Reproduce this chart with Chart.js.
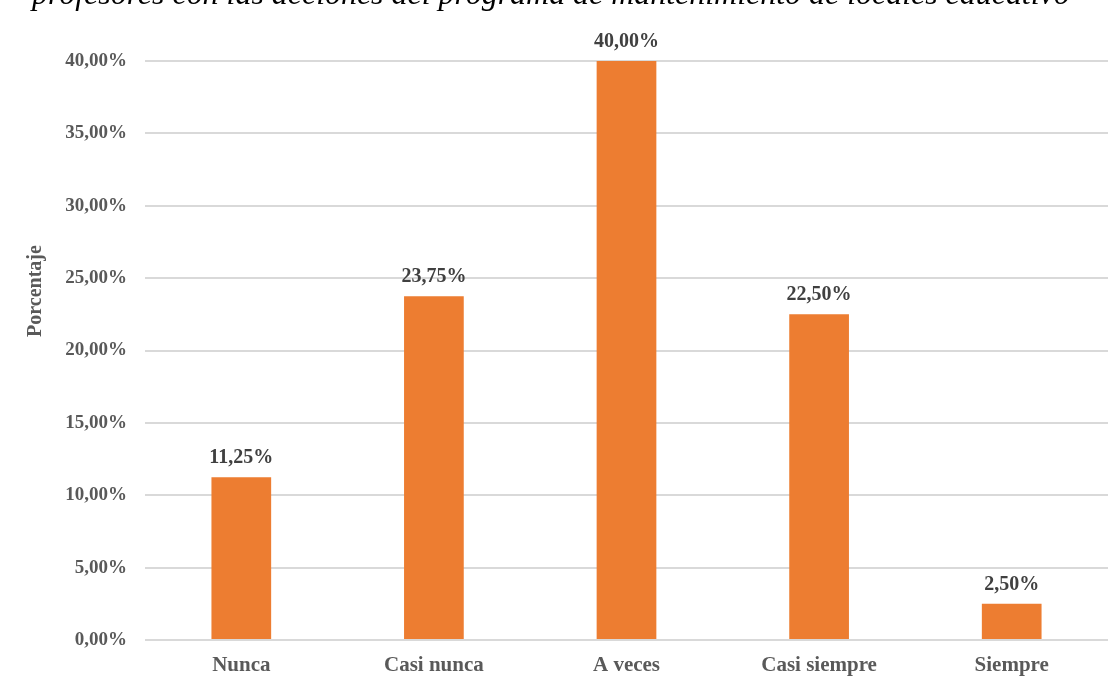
<!DOCTYPE html>
<html>
<head>
<meta charset="utf-8">
<title>Porcentaje</title>
<script src="https://cdn.jsdelivr.net/npm/chart.js"></script>
<style>
  body { margin: 0; background: #fff; }
  #wrap { width: 1117px; height: 692px; position: relative; }
</style>
</head>
<body>
<div id="wrap">
  <canvas id="barChart" width="1117" height="692"></canvas>
</div>
<script>
// data
const categories = ['Nunca', 'Casi nunca', 'A veces', 'Casi siempre', 'Siempre'];
const percentages = [11.25, 23.75, 40.00, 22.50, 2.50];
const yTicks = [0, 5, 10, 15, 20, 25, 30, 35, 40];
const titleText = 'profesores con las acciones del programa de mantenimiento de locales educativo';
const axisTitle = 'Porcentaje';

const serif = '"Liberation Serif", "Times New Roman", serif';
const fmt = v => v.toFixed(2).replace('.', ',') + '%';

// cut-off caption at top + rotated axis title + value labels
const decorations = {
  id: 'decorations',
  afterDraw(chart) {
    const ctx = chart.ctx;
    ctx.save();

    // caption (only its lower part is visible)
    let size = 27;
    ctx.font = 'italic ' + size + 'px ' + serif;
    const w = ctx.measureText(titleText).width;
    size = size * 1038 / w;
    ctx.font = 'italic ' + size.toFixed(2) + 'px ' + serif;
    ctx.fillStyle = '#000';
    ctx.textAlign = 'left';
    ctx.textBaseline = 'alphabetic';
    ctx.fillText(titleText, 32, 4);

    // y axis title
    ctx.translate(36, 291);
    ctx.rotate(-Math.PI / 2);
    ctx.font = 'bold 20px ' + serif;
    ctx.fillStyle = '#595959';
    ctx.textAlign = 'center';
    ctx.textBaseline = 'middle';
    ctx.fillText(axisTitle, 0, 0);
    ctx.setTransform(1, 0, 0, 1, 0, 0);

    // value labels over bars
    const meta = chart.getDatasetMeta(0);
    ctx.font = 'bold 20px ' + serif;
    ctx.fillStyle = '#404040';
    ctx.textAlign = 'center';
    ctx.textBaseline = 'alphabetic';
    meta.data.forEach((bar, i) => {
      ctx.fillText(fmt(percentages[i]), bar.x, bar.y - 14);
    });
    ctx.restore();
  }
};

new Chart(document.getElementById('barChart'), {
  type: 'bar',
  data: {
    labels: categories,
    datasets: [{
      data: percentages,
      backgroundColor: '#ED7D31',
      borderWidth: 0,
      barPercentage: 0.31,
      categoryPercentage: 1
    }]
  },
  options: {
    responsive: false,
    animation: false,
    layout: { padding: { top: 61, right: 9, left: 0, bottom: 0 } },
    plugins: {
      legend: { display: false },
      tooltip: { enabled: false }
    },
    scales: {
      x: {
        grid: { display: false, drawTicks: false },
        border: { display: false },
        ticks: {
          padding: 13,
          color: '#595959',
          font: { family: serif, size: 21, weight: 'bold' }
        },
        afterFit: s => { s.height = 52; }
      },
      y: {
        min: 0,
        max: 40,
        afterBuildTicks: s => { s.ticks = yTicks.map(v => ({ value: v })); },
        grid: { color: '#d9d9d9', lineWidth: 2, drawTicks: false },
        border: { display: false },
        ticks: {
          padding: 18,
          color: '#595959',
          font: { family: serif, size: 19, weight: 'bold' },
          callback: v => fmt(v)
        },
        afterFit: s => { s.width = 145; }
      }
    }
  },
  plugins: [decorations]
});
</script>
</body>
</html>
